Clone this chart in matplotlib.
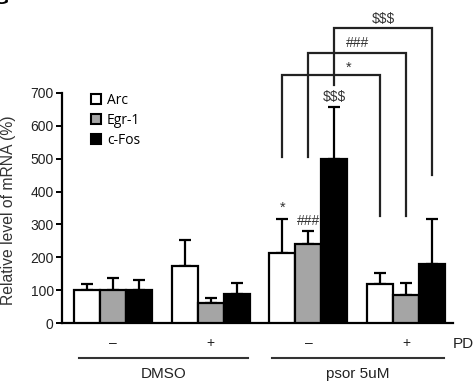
import matplotlib
matplotlib.use("Agg")
import matplotlib.pyplot as plt
import matplotlib.transforms as mtransforms
from matplotlib.patches import Patch
import numpy as np

# ---- data ----
genes = ["Arc", "Egr-1", "c-Fos"]
pd_labels = ["\u2013", "+", "\u2013", "+"]
treatments = ["DMSO", "psor 5uM"]
arc = [101, 174, 213, 119]
arc_err = [17, 79, 103, 35]
egr = [100, 61, 240, 86]
egr_err = [38, 16, 41, 36]
cfos = [100, 89, 498, 180]
cfos_err = [32, 33, 160, 137]
yticks = [0, 100, 200, 300, 400, 500, 600, 700]
# brackets: gene index, left-leg bottom, top, right-leg bottom, label
bracket_gene = [0, 1, 2]
bracket_left = [505, 505, 724]
bracket_top = [755, 822, 895]
bracket_right = [326, 326, 451]
bracket_text = ["*", "###", "$$$"]

colors = ["white", "#a5a5a5", "black"]
W, H = 474, 383
fig = plt.figure(figsize=(W / 100, H / 100), dpi=100)
ax = fig.add_axes([62 / W, 1 - 323.3 / H, (453 - 62) / W, 230.6 / H])

font = "Liberation Sans"
x = np.arange(4)
bw = 0.266
offs = [-bw, 0, bw]
vals = [arc, egr, cfos]
errs = [arc_err, egr_err, cfos_err]
for gi in range(3):
    xs = x + offs[gi]
    ax.bar(xs, vals[gi], bw, color=colors[gi], edgecolor="black", linewidth=1.6, zorder=3)
    ax.errorbar(xs, vals[gi], yerr=[np.zeros(4), errs[gi]], fmt="none", ecolor="black",
                elinewidth=1.6, capsize=4, capthick=1.6, zorder=2)

ax.set_xlim(-0.522, 3.48)
ax.set_ylim(0, 700)
ax.set_yticks(yticks)
ax.set_yticklabels([str(t) for t in yticks], fontsize=10, family=font, color="#222222")
ax.set_xticks([])
for s in ["top", "right"]:
    ax.spines[s].set_visible(False)
ax.spines["left"].set_linewidth(1.6)
ax.spines["bottom"].set_linewidth(1.6)
ax.tick_params(axis="y", length=4, width=1.4, pad=2)
ax.set_ylabel("Relative level of mRNA (%)", fontsize=11.3, family=font, color="#333333")
ax.yaxis.set_label_coords(-0.118, 0.49)

# significance brackets
for g, yl, yt, yr, t in zip(bracket_gene, bracket_left, bracket_top, bracket_right, bracket_text):
    xl = 2 + offs[g]
    xr = 3 + offs[g]
    ax.plot([xl, xl, xr, xr], [yl, yt, yt, yr], color="#222222", lw=1.6, clip_on=False,
            solid_joinstyle="miter")
tx = [2.415, 2.5, 2.77]
ty = [755, 830, 903]
for t, xx, yy in zip(bracket_text, tx, ty):
    ax.text(xx, yy, t, ha="center", va="bottom", fontsize=10 if t != "*" else 10.5,
            family=font, color="#333333", clip_on=False)

# annotations above bars
ax.text(2 + offs[0], 330, "*", ha="center", va="bottom", fontsize=10.5, family=font, color="#333333")
ax.text(2 + offs[1], 288, "###", ha="center", va="bottom", fontsize=10, family=font, color="#333333")
ax.text(2 + offs[2], 665, "$$$", ha="center", va="bottom", fontsize=10, family=font, color="#333333")

# x labels
trans = mtransforms.blended_transform_factory(ax.transData, ax.transAxes)
for xi, lab in zip(x, pd_labels):
    ax.text(xi, -0.085, lab, transform=trans, ha="center", va="center", fontsize=10,
            family=font, color="#222222", clip_on=False)
ax.text(3.48, -0.09, "PD", transform=trans, ha="left", va="center", fontsize=11,
        family=font, color="#222222", clip_on=False)
lines = [(-0.348, 1.382), (1.627, 3.388)]
for (a, b), lab in zip(lines, treatments):
    ax.plot([a, b], [-0.151, -0.151], transform=trans, color="#333333", lw=1.5, clip_on=False)
    ax.text((a + b) / 2, -0.218, lab, transform=trans, ha="center", va="center",
            fontsize=11, family=font, color="#222222", clip_on=False)

# legend
handles = [Patch(facecolor=c, edgecolor="black", linewidth=1.5) for c in colors]
fig.legend(handles, genes, loc="upper left", bbox_to_anchor=(91 / W, 1 - 93 / H),
           frameon=False, handlelength=0.75, handleheight=0.75, handletextpad=0.4,
           labelspacing=0.35, borderaxespad=0, borderpad=0,
           prop={"family": "Open Sans", "size": 10})

# partial panel letter in corner
fig.text(-7 / W, 1 + 9 / H, "G", fontsize=14, fontweight="bold", family=font, va="top", ha="left")

fig.savefig("out.png", dpi=100)
